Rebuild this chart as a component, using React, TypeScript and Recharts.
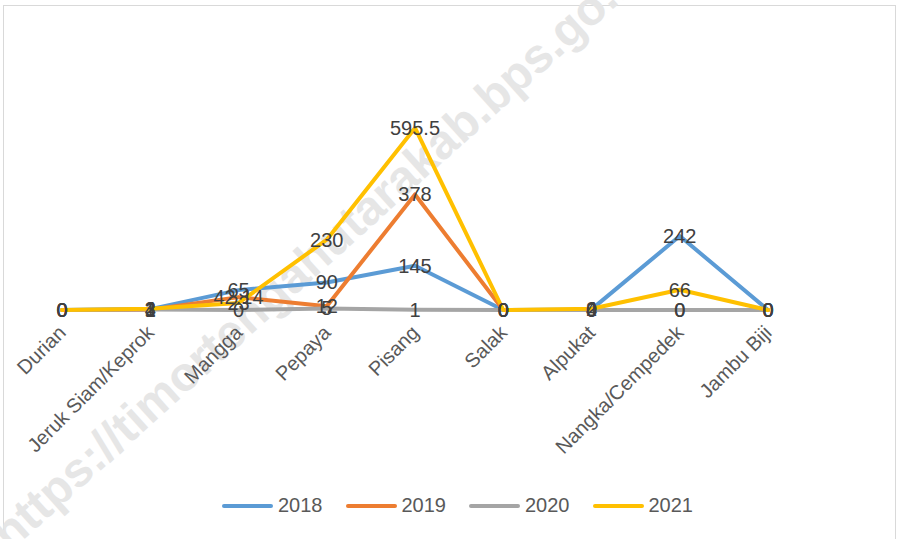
import React from 'react';
import { LineChart, Line, XAxis, YAxis, LabelList } from 'recharts';

const categories = [
  'Durian',
  'Jeruk Siam/Keprok',
  'Mangga',
  'Pepaya',
  'Pisang',
  'Salak',
  'Alpukat',
  'Nangka/Cempedek',
  'Jambu Biji',
];
const values2018 = [0, 3, 65, 90, 145, 0, 2, 242, 0];
const values2019 = [0, 1, 42.14, 12, 378, 0, 0, 0, 0];
const values2020 = [0, 2, 0, 5, 1, 0, 0, 0, 0];
const values2021 = [0, 4, 23, 230, 595.5, 0, 4, 66, 0];

const seriesNames = ['2018', '2019', '2020', '2021'];
const seriesColors = ['#5b9bd5', '#ed7d31', '#a5a5a5', '#ffc000'];

const data = categories.map((name, i) => ({
  name,
  y2018: values2018[i],
  y2019: values2019[i],
  y2020: values2020[i],
  y2021: values2021[i],
}));

const FONT = '"Liberation Sans", Arial, sans-serif';

function CategoryTick({ x, y, payload }: { x: number; y: number; payload: { value: string } }) {
  const ax = x + 5;
  const ay = y + 16;
  return (
    <text
      x={ax}
      y={ay}
      transform={`rotate(-45, ${ax}, ${ay})`}
      textAnchor="end"
      fill="#595959"
      fontSize={20}
      fontFamily={FONT}
    >
      {payload.value}
    </text>
  );
}

function ValueLabel(props: any) {
  const { x, y, value } = props;
  if (x == null || y == null) return null;
  return (
    <text
      x={x}
      y={y}
      textAnchor="middle"
      dominantBaseline="central"
      fill="#404040"
      fontSize={20}
      fontFamily={FONT}
    >
      {String(value)}
    </text>
  );
}

export default function App() {
  const keys = ['y2018', 'y2019', 'y2020', 'y2021'];
  return (
    <div style={{ position: 'absolute', left: 0, top: 0, width: 897, height: 539, background: '#fff', overflow: 'hidden' }}>
      <div
        style={{
          position: 'absolute',
          left: 3,
          top: 5,
          width: 891,
          height: 560,
          border: '1px solid #d9d9d9',
        }}
      />
      <svg width={897} height={539} style={{ position: 'absolute', left: 0, top: 0 }}>
        <text
          x={10}
          y={552}
          transform="rotate(-42, 10, 552)"
          fontSize={48}
          fontWeight="bold"
          fontFamily={FONT}
          fill="#e6e6e6"
        >
          https://timortengahutarakab.bps.go.id
        </text>
      </svg>
      <div style={{ position: 'absolute', left: 0, top: 0 }}>
        <LineChart width={897} height={539} data={data} margin={{ top: 96, right: 85, bottom: 99, left: 18 }}>
          <XAxis
            dataKey="name"
            interval={0}
            height={130}
            padding={{ left: 44, right: 44 }}
            axisLine={false}
            tickLine={false}
            tick={CategoryTick as any}
          />
          <YAxis hide domain={[0, 700]} />
          {keys.map((k, i) => (
            <Line
              key={k}
              type="linear"
              dataKey={k}
              name={seriesNames[i]}
              stroke={seriesColors[i]}
              strokeWidth={4}
              strokeLinejoin="round"
              strokeLinecap="round"
              dot={false}
              isAnimationActive={false}
            />
          ))}
          {keys.map((k) => (
            <Line
              key={`lbl-${k}`}
              type="linear"
              dataKey={k}
              stroke="none"
              dot={false}
              legendType="none"
              isAnimationActive={false}
            >
              <LabelList dataKey={k} content={ValueLabel} />
            </Line>
          ))}
        </LineChart>
      </div>
      <div
        style={{
          position: 'absolute',
          left: 222,
          top: 494,
          display: 'flex',
          alignItems: 'center',
          fontFamily: FONT,
          fontSize: 20,
          color: '#595959',
        }}
      >
        {seriesNames.map((n, i) => (
          <div key={n} style={{ display: 'flex', alignItems: 'center', marginRight: 23 }}>
            <div style={{ width: 51, height: 4, borderRadius: 2, background: seriesColors[i], marginRight: 5 }} />
            <span>{n}</span>
          </div>
        ))}
      </div>
    </div>
  );
}
